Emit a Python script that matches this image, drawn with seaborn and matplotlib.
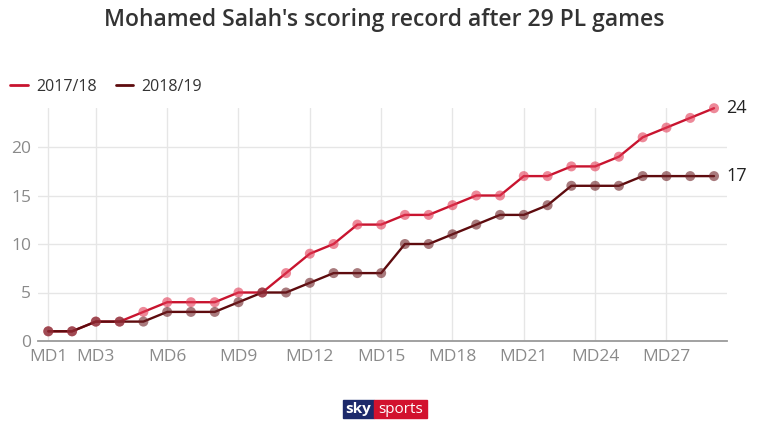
import pandas as pd
import matplotlib.pyplot as plt
import seaborn as sns
from matplotlib.patches import Rectangle
from matplotlib.lines import Line2D

# Goals per matchday (cumulative)
matchdays = list(range(1, 30))
goals_1718 = [1, 1, 2, 2, 3, 4, 4, 4, 5, 5, 7, 9, 10, 12, 12, 13, 13, 14, 15, 15,
              17, 17, 18, 18, 19, 21, 22, 23, 24]
goals_1819 = [1, 1, 2, 2, 2, 3, 3, 3, 4, 5, 5, 6, 7, 7, 7, 10, 10, 11, 12, 13,
              13, 14, 16, 16, 16, 17, 17, 17, 17]
seasons = ['2017/18', '2018/19']
tick_days = [1, 3, 6, 9, 12, 15, 18, 21, 24, 27]
tick_labels = ['MD%d' % d for d in tick_days]
y_ticks = [0, 5, 10, 15, 20]

line_colors = {'2017/18': '#c8142f', '2018/19': '#5e0b0e'}
dot_colors = {'2017/18': '#e23a55', '2018/19': '#6e2226'}

df = pd.DataFrame({
    'md': matchdays * 2,
    'goals': goals_1718 + goals_1819,
    'season': [seasons[0]] * 29 + [seasons[1]] * 29,
})

sns.set_theme(style='white')
plt.rcParams['font.family'] = ['Open Sans', 'DejaVu Sans']

fig = plt.figure(figsize=(7.68, 4.32), dpi=100)
ax = fig.add_axes([38 / 768, 1 - 341 / 432, 689 / 768, (341 - 108.2) / 432])

for s in seasons:
    sub = df[df['season'] == s]
    sns.lineplot(data=sub, x='md', y='goals', color=line_colors[s], linewidth=1.7,
                 ax=ax, legend=False, clip_on=False, zorder=3)
    sns.scatterplot(data=sub, x='md', y='goals', color=dot_colors[s], s=52, alpha=0.6,
                    edgecolor='none', ax=ax, legend=False, clip_on=False, zorder=4)

ax.set_xlim(1 - 10.3 / 23.79, 29 + 13 / 23.79)
ax.set_ylim(0, 24)
ax.set_xticks(tick_days)
ax.set_xticklabels(tick_labels)
ax.set_yticks(y_ticks)
ax.set_xlabel('')
ax.set_ylabel('')
ax.tick_params(axis='both', length=0, labelsize=12.5, labelcolor='#8a8a8a')
ax.tick_params(axis='x', pad=6)
ax.tick_params(axis='y', pad=5)
ax.grid(True, color='#e6e6e6', linewidth=1)
ax.set_axisbelow(True)
for side in ['top', 'right', 'left']:
    ax.spines[side].set_visible(False)
ax.spines['bottom'].set_color('#9a9a9a')
ax.spines['bottom'].set_linewidth(1.3)

# end labels
ax.annotate(str(goals_1718[-1]), (29, goals_1718[-1]), xytext=(9, 0),
            textcoords='offset points', va='center', fontsize=13, color='#222222')
ax.annotate(str(goals_1819[-1]), (29, goals_1819[-1]), xytext=(9, 0),
            textcoords='offset points', va='center', fontsize=13, color='#222222')

fig.text(0.5, 1 - 20 / 432, "Mohamed Salah's scoring record after 29 PL games",
         ha='center', va='center', fontsize=16.5, fontweight='semibold', color='#333333')

# legend
handles = [Line2D([0], [0], color=line_colors[s], linewidth=2) for s in seasons]
fig.legend(handles, seasons, loc='center left', bbox_to_anchor=(0.005, 1 - 87 / 432),
           ncol=2, frameon=False, fontsize=11.5, handlelength=1.1, handletextpad=0.5,
           columnspacing=1.2, borderaxespad=0, labelcolor='#333333')

# sky sports logo
fig.patches.append(Rectangle((343 / 768, 1 - 418 / 432), 31 / 768, 18 / 432,
                             transform=fig.transFigure, color='#1d2a6b'))
fig.patches.append(Rectangle((374 / 768, 1 - 418 / 432), 53 / 768, 18 / 432,
                             transform=fig.transFigure, color='#d2122e'))
fig.text(358.5 / 768, 1 - 409.5 / 432, 'sky', ha='center', va='center', fontsize=11,
         fontweight='bold', color='white')
fig.text(400.5 / 768, 1 - 409.5 / 432, 'sports', ha='center', va='center', fontsize=11,
         color='white')

fig.savefig('out.png', dpi=100)
